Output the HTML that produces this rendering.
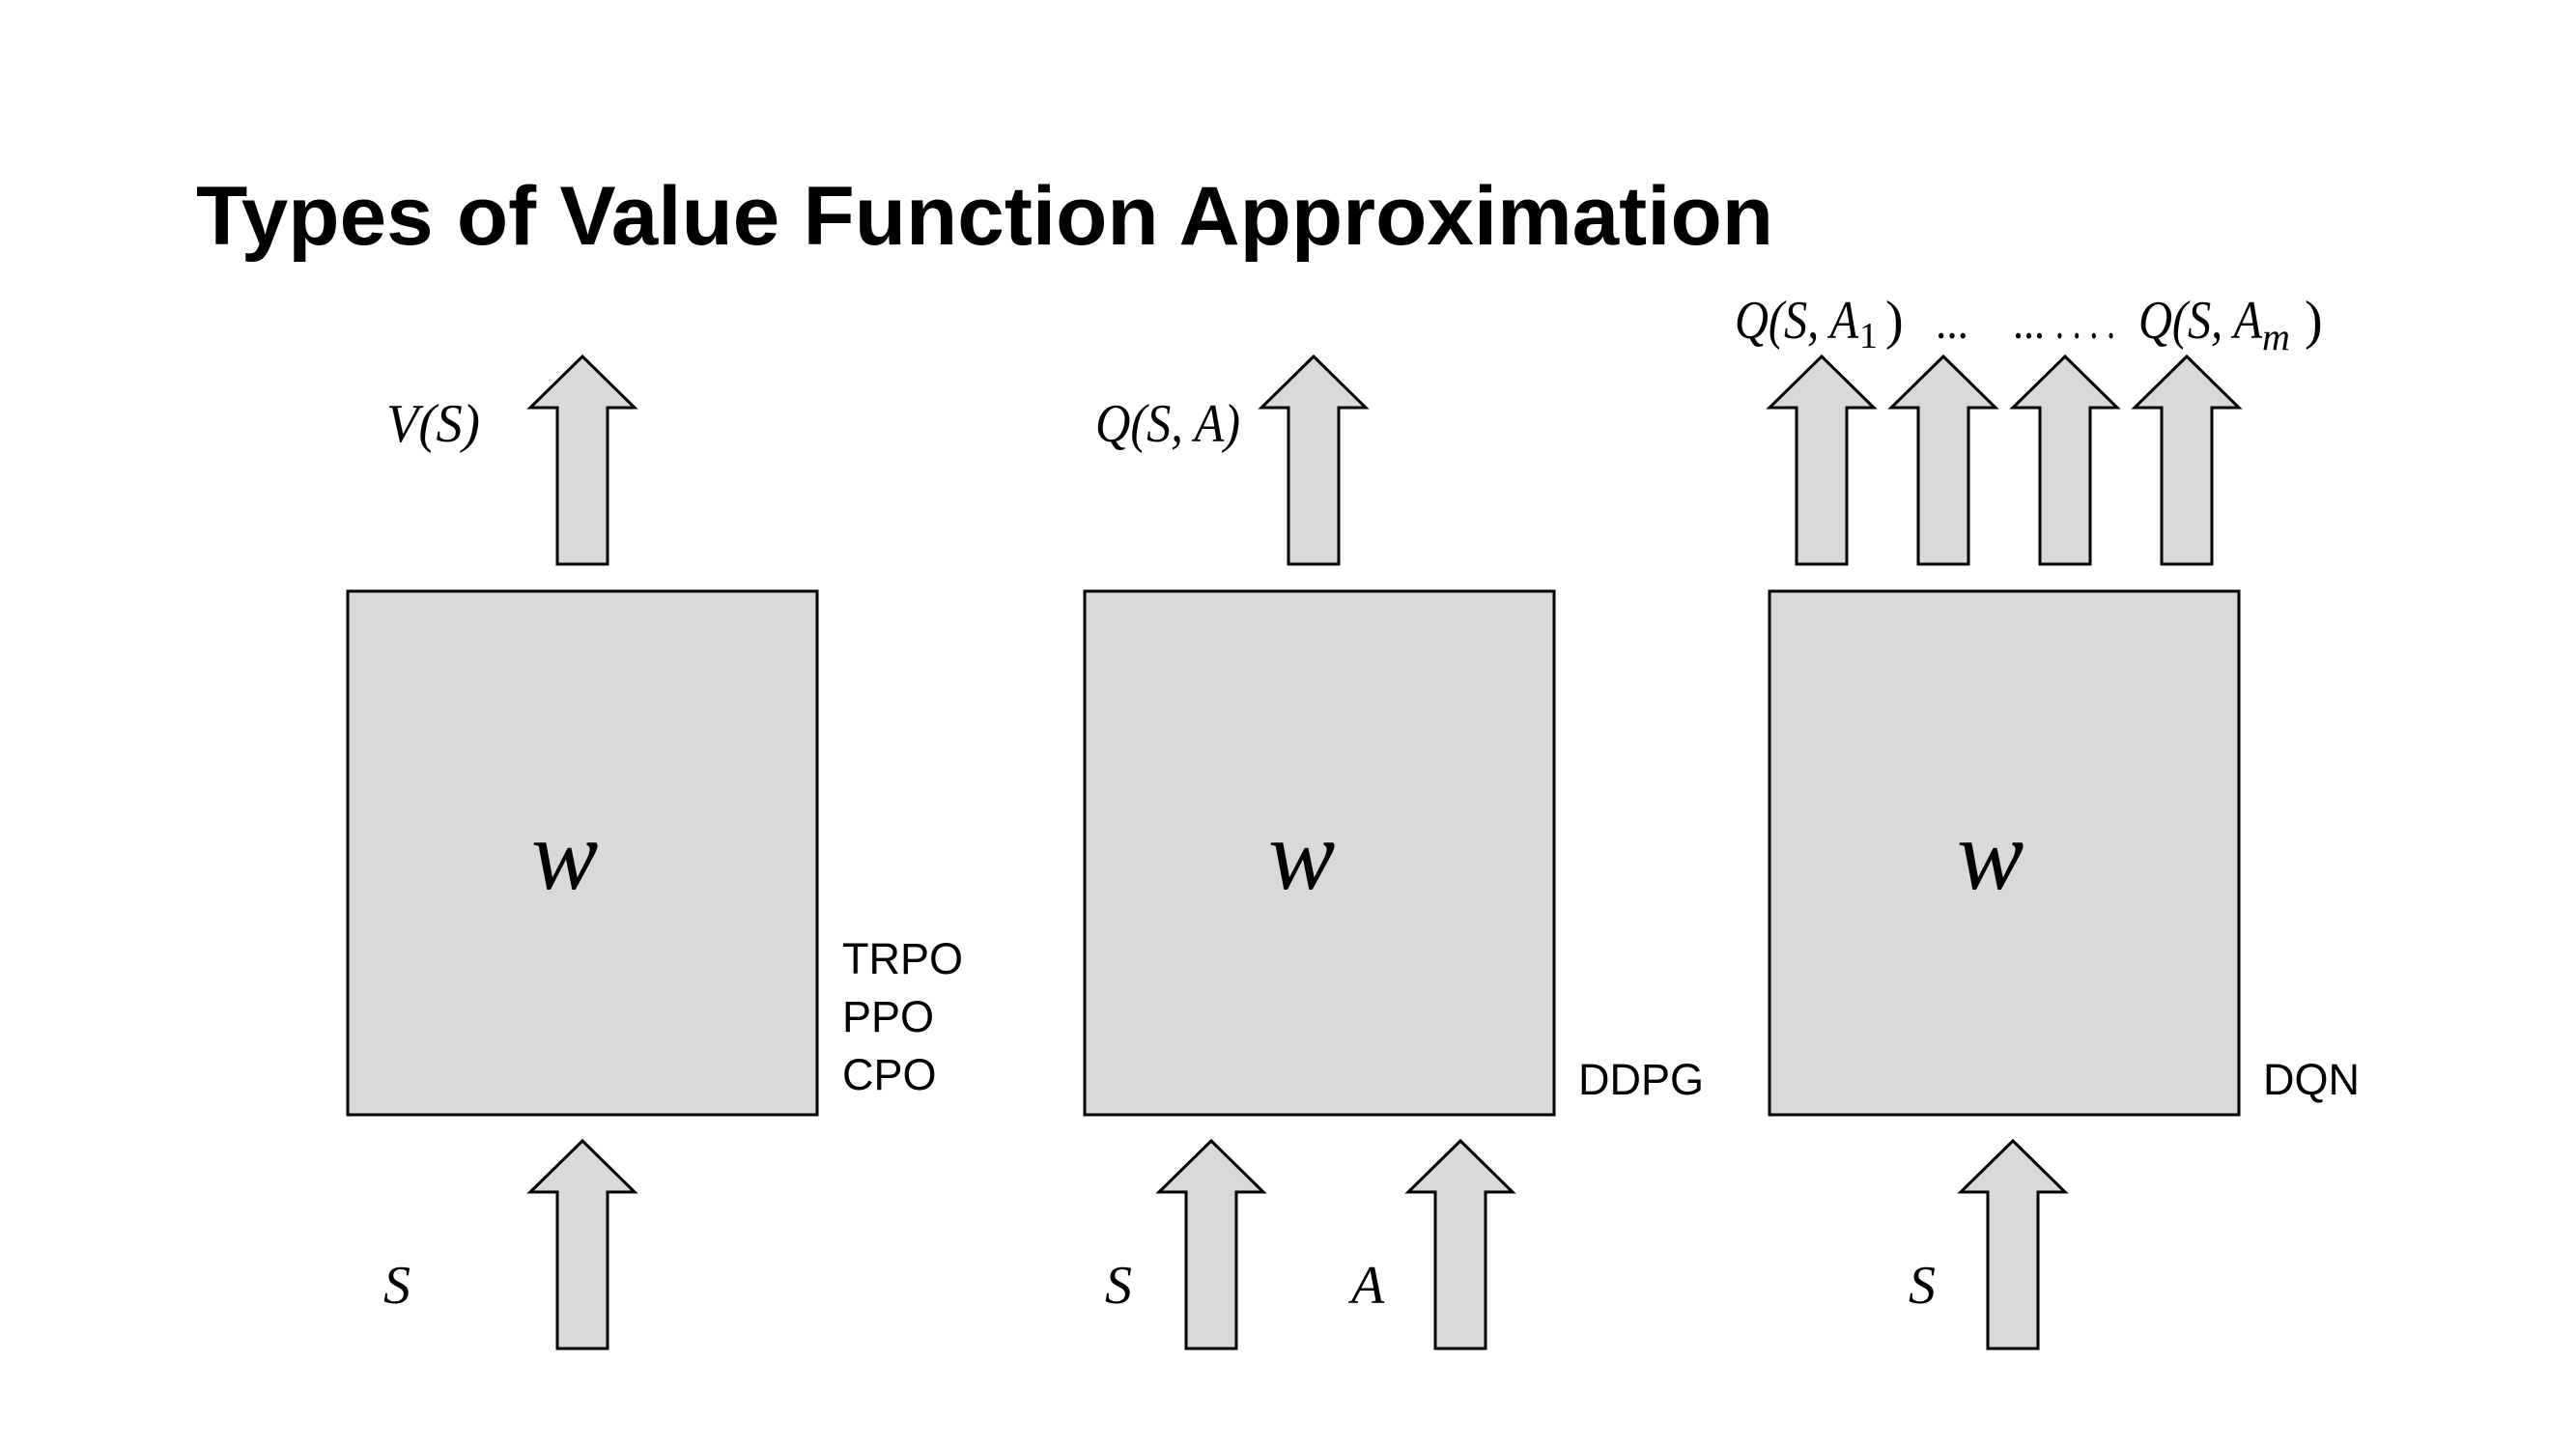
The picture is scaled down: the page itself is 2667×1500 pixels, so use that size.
<!DOCTYPE html>
<html><head><meta charset="utf-8"><style>
html,body{margin:0;padding:0;background:#fff;}
svg{display:block;}
.m{font-family:"Liberation Serif",serif;font-style:italic;font-size:56px;fill:#000;}
.w{font-family:"Liberation Serif",serif;font-style:italic;font-size:104px;fill:#000;}
.t{font-family:"Liberation Sans",sans-serif;font-size:45px;fill:#000;}
.d{font-family:"Liberation Serif",serif;font-size:50px;fill:#000;}
</style></head><body>
<svg width="2667" height="1500" viewBox="0 0 2667 1500" xmlns="http://www.w3.org/2000/svg">
<defs>
<path id="up" d="M0,0 L54,53 L26,53 L26,215 L-26,215 L-26,53 L-54,53 Z" fill="#d9d9d9" stroke="#000" stroke-width="3"/>
</defs>
<text x="203" y="253" font-family="Liberation Sans, sans-serif" font-weight="bold" font-size="86" textLength="1633" lengthAdjust="spacingAndGlyphs">Types of Value Function Approximation</text>

<rect x="360" y="612" width="486" height="542" fill="#d9d9d9" stroke="#000" stroke-width="3"/>
<rect x="1123" y="612" width="486" height="542" fill="#d9d9d9" stroke="#000" stroke-width="3"/>
<rect x="1832" y="612" width="486" height="542" fill="#d9d9d9" stroke="#000" stroke-width="3"/>

<use href="#up" x="603" y="369"/>
<use href="#up" x="1360" y="369"/>
<use href="#up" x="1886" y="369"/>
<use href="#up" x="2012" y="369"/>
<use href="#up" x="2138" y="369"/>
<use href="#up" x="2264" y="369"/>

<use href="#up" x="603" y="1181"/>
<use href="#up" x="1254" y="1181"/>
<use href="#up" x="1512" y="1181"/>
<use href="#up" x="2084" y="1181"/>

<text class="m" x="400" y="457" textLength="97" lengthAdjust="spacingAndGlyphs">V(S)</text>
<text class="m" x="1134" y="457" textLength="150" lengthAdjust="spacingAndGlyphs">Q(S, A)</text>

<text class="m" x="1796" y="350" textLength="128" lengthAdjust="spacingAndGlyphs">Q(S, A</text>
<text class="m" x="1925" y="360" style="font-size:38px;font-style:normal">1</text>
<text class="m" x="1952" y="350" style="font-style:normal">)</text>
<text class="d" x="2004" y="350" textLength="34" lengthAdjust="spacingAndGlyphs">...</text>
<text class="d" x="2084" y="350" textLength="33" lengthAdjust="spacingAndGlyphs">...</text>
<text class="d" x="2128" y="350" textLength="62" lengthAdjust="spacingAndGlyphs">. . . .</text>
<text class="m" x="2214" y="350" textLength="128" lengthAdjust="spacingAndGlyphs">Q(S, A</text>
<text class="m" x="2342" y="362" style="font-size:40px">m</text>
<text class="m" x="2386" y="350" style="font-style:normal">)</text>

<text class="m" x="397" y="1349">S</text>
<text class="m" x="1144" y="1349">S</text>
<text class="m" x="1399" y="1349">A</text>
<text class="m" x="1976" y="1349">S</text>

<text class="w" x="550" y="920">w</text>
<text class="w" x="1313" y="920">w</text>
<text class="w" x="2026" y="920">w</text>

<text class="t" x="872" y="1008">TRPO</text>
<text class="t" x="872" y="1068">PPO</text>
<text class="t" x="872" y="1128">CPO</text>
<text class="t" x="1634" y="1133">DDPG</text>
<text class="t" x="2343" y="1133">DQN</text>
</svg>
</body></html>
